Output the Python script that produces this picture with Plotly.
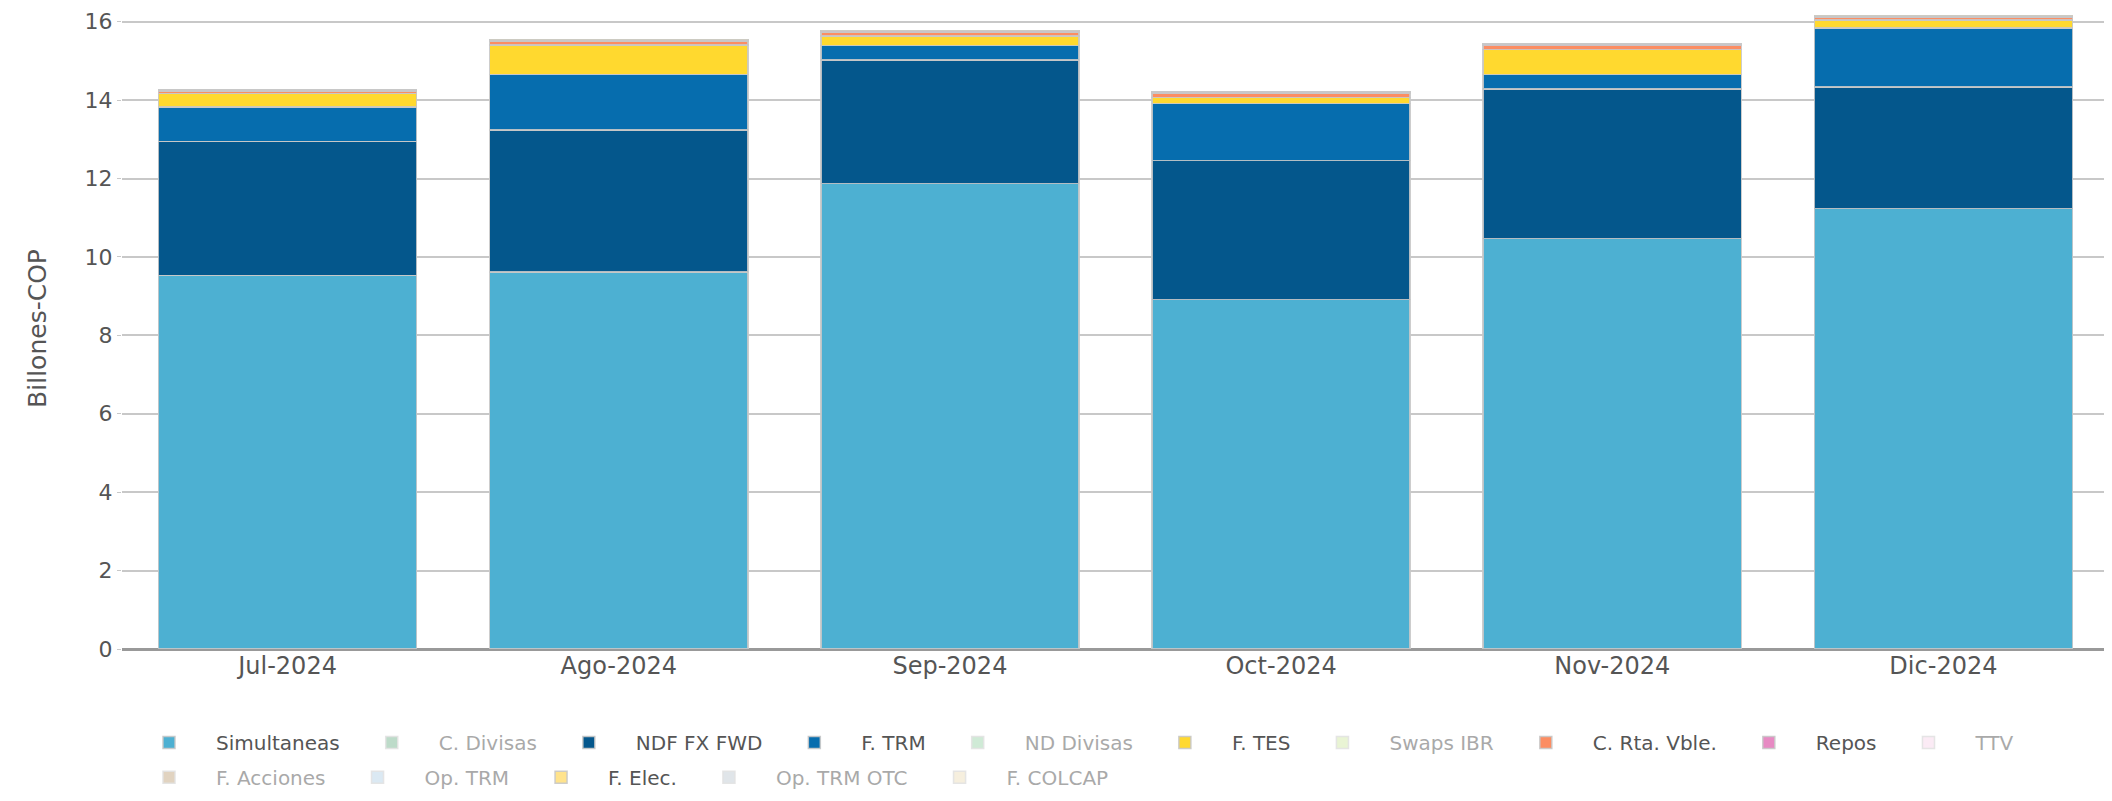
import plotly.graph_objects as go

months = ["Jul-2024", "Ago-2024", "Sep-2024", "Oct-2024", "Nov-2024", "Dic-2024"]

simultaneas = [9.53, 9.61, 11.87, 8.91, 10.47, 11.23]
c_divisas = [0, 0, 0, 0, 0, 0]
ndf_fx_fwd = [3.42, 3.63, 3.16, 3.55, 3.81, 3.11]
f_trm = [0.88, 1.42, 0.36, 1.45, 0.37, 1.50]
nd_divisas = [0, 0, 0, 0, 0, 0]
f_tes = [0.34, 0.74, 0.25, 0.16, 0.64, 0.21]
swaps_ibr = [0, 0, 0, 0, 0, 0]
c_rta_vble = [0.06, 0.10, 0.10, 0.10, 0.10, 0.07]
repos = [0.03, 0.04, 0.03, 0.04, 0.04, 0.03]
ttv = [0, 0, 0, 0, 0, 0]
f_acciones = [0, 0, 0, 0, 0, 0]
op_trm = [0, 0, 0, 0, 0, 0]
f_elec = [0.01, 0.01, 0.01, 0.01, 0.01, 0.01]
op_trm_otc = [0, 0, 0, 0, 0, 0]
f_colcap = [0, 0, 0, 0, 0, 0]

# name, values, colour, shown, legend row
series = [
    ("Simultaneas", simultaneas, "#4DB0D2", True, "legend"),
    ("C. Divisas", c_divisas, "#7DB894", False, "legend"),
    ("NDF FX FWD", ndf_fx_fwd, "#04578C", True, "legend"),
    ("F. TRM", f_trm, "#066DAE", True, "legend"),
    ("ND Divisas", nd_divisas, "#A1D6AE", False, "legend"),
    ("F. TES", f_tes, "#FFD92F", True, "legend"),
    ("Swaps IBR", swaps_ibr, "#D4EBAA", False, "legend"),
    ("C. Rta. Vble.", c_rta_vble, "#FC8D62", True, "legend"),
    ("Repos", repos, "#E78AC3", True, "legend"),
    ("TTV", ttv, "#F9D9EC", False, "legend"),
    ("F. Acciones", f_acciones, "#C4A882", False, "legend2"),
    ("Op. TRM", op_trm, "#B8D4E8", False, "legend2"),
    ("F. Elec.", f_elec, "#FFE38C", True, "legend2"),
    ("Op. TRM OTC", op_trm_otc, "#C2CCD4", False, "legend2"),
    ("F. COLCAP", f_colcap, "#EFE1BE", False, "legend2"),
]

fig = go.Figure()
for name, vals, color, vis, leg in series:
    fig.add_trace(go.Bar(
        x=months, y=vals, name=name,
        marker=dict(color=color, line=dict(color="rgba(200,200,200,0.9)", width=1.5)),
        visible=True if vis else "legendonly",
        legend=leg,
    ))

font_fam = "DejaVu Sans"
leg_common = dict(
    orientation="h",
    x=0.0, xanchor="left",
    yanchor="middle",
    font=dict(family=font_fam, size=20, color="#555555"),
    itemwidth=84,
    traceorder="normal",
    bgcolor="rgba(0,0,0,0)",
)
fig.update_layout(
    barmode="stack",
    bargap=0.22,
    width=2112, height=801,
    margin=dict(l=114, r=11, t=0, b=160),
    paper_bgcolor="white",
    plot_bgcolor="white",
    font=dict(family=font_fam, size=20, color="#555555"),
    xaxis=dict(
        showgrid=False,
        tickfont=dict(size=24, color="#555555"),
        showline=False,
        ticks="",
    ),
    yaxis=dict(
        range=[0, 16.35],
        tickvals=[0, 2, 4, 6, 8, 10, 12, 14, 16],
        gridcolor="#c8c8c8",
        gridwidth=2,
        zeroline=True,
        zerolinecolor="#999999",
        zerolinewidth=3,
        tickfont=dict(size=22, color="#555555"),
        ticks="outside",
        ticklen=4,
        tickcolor="#c8c8c8",
        title=dict(text="Billones-COP", font=dict(size=25, color="#555555"), standoff=30),
    ),
    legend=dict(leg_common, y=-0.1457),
    legend2=dict(leg_common, y=-0.2002),
)

fig.write_html("out.html")
